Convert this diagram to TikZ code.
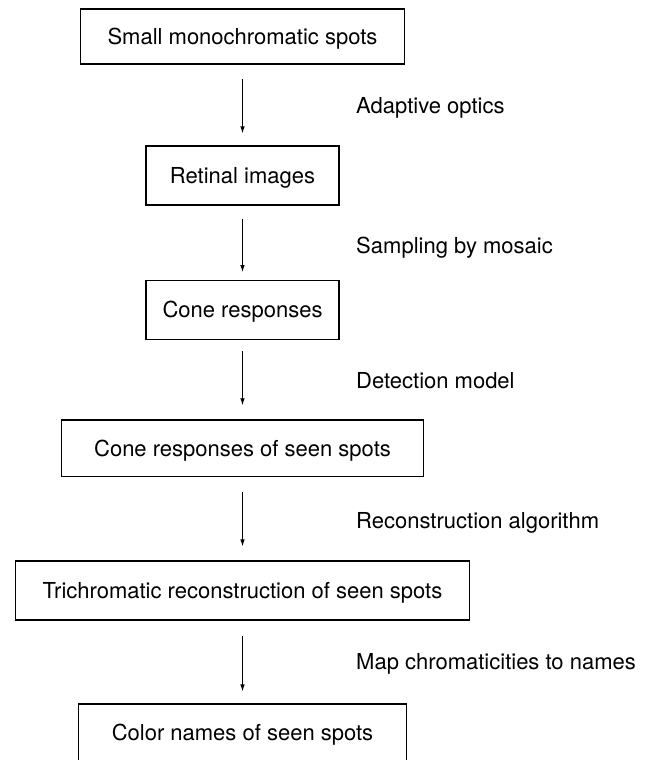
\documentclass[tikz,border=0pt]{standalone}
\usepackage{fontspec}
\setmainfont{TeX Gyre Heros}
\usetikzlibrary{arrows.meta}
\begin{document}
\begin{tikzpicture}[x=1pt,y=-1pt,
  txt/.style={font=\fontsize{22}{26}\selectfont, text height=15.6pt, text depth=0pt},
  box/.style={txt, draw, line width=1.4pt, inner sep=0pt, align=center},
  lbl/.style={txt, anchor=west, inner sep=0pt},
  conn/.style={-{Latex[length=7pt,width=4.6pt]}, line width=0.9pt}]
\useasboundingbox (0,0) rectangle (655,760);
\fill[white] (0,0) rectangle (655,760);
\node[box, minimum width=323.6pt, minimum height=55pt] (b1) at (242.5,36.5) {Small monochromatic spots};
\node[box, minimum width=193pt, minimum height=59pt] (b2) at (242.5,175.5) {Retinal images};
\node[box, minimum width=193pt, minimum height=58.6pt] (b3) at (242.5,310) {Cone responses};
\node[box, minimum width=361.6pt, minimum height=56.7pt] (b4) at (242.5,448.3) {Cone responses of seen spots};
\node[box, minimum width=454pt, minimum height=59pt] (b5) at (242.5,590.5) {Trichromatic reconstruction of seen spots};
\node[box, minimum width=328pt, minimum height=58pt] (b6) at (242.5,733) {Color names of seen spots};

\draw[conn, shorten <=14pt, shorten >=12pt] (b1.south) -- (b2.north);
\draw[conn, shorten <=13pt, shorten >=8pt] (b2.south) -- (b3.north);
\draw[conn, shorten <=11pt, shorten >=14pt] (b3.south) -- (b4.north);
\draw[conn, shorten <=15pt, shorten >=14pt] (b4.south) -- (b5.north);
\draw[conn, shorten <=15pt, shorten >=12pt] (b5.south) -- (b6.north);

\node[lbl] (l1) at (356,105.5) {Adaptive optics};
\node[lbl] (l2) at (356,245.5) {Sampling by mosaic};
\node[lbl] (l3) at (356,380.5) {Detection model};
\node[lbl] (l4) at (356,520.5) {Reconstruction algorithm};
\node[lbl] (l5) at (356,661.7) {Map chromaticities to names};
\end{tikzpicture}
\end{document}
